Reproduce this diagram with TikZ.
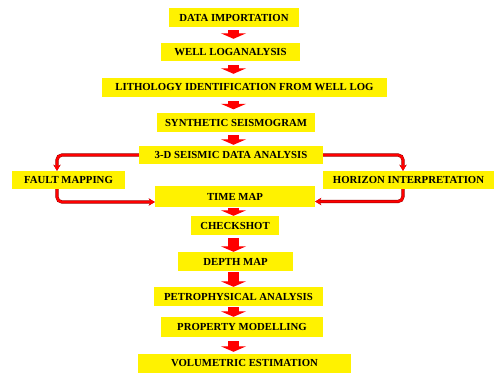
\documentclass[tikz,border=0pt]{standalone}
\usepackage{fontspec}
\setmainfont{Liberation Serif}
\usetikzlibrary{arrows.meta,calc}
\begin{document}
\begin{tikzpicture}[x=1bp,y=-1bp,
 box/.style={fill=yellow, inner sep=0pt, font=\bfseries\fontsize{10.8}{11}\selectfont},
 blockarrow/.style={draw=red, line width=11bp, -{Triangle[width=25bp,length=5.5bp]}},
 conn/.style={draw=red, line width=2.4bp, rounded corners=5bp, -{Stealth[length=6bp,width=7bp]},
   preaction={draw=red!55!black, line width=3.2bp, rounded corners=5bp}}]
\fill[white] (0,0) rectangle (495,374);
\node[box, minimum width=130bp, minimum height=19bp] (n1) at (234,17.5) {DATA IMPORTATION};
\node[box, minimum width=139bp, minimum height=18bp] (n2) at (230.5,52) {WELL LOGANALYSIS};
\node[box, minimum width=285bp, minimum height=19bp] (n3) at (244.5,87.5) {LITHOLOGY IDENTIFICATION FROM WELL LOG};
\node[box, minimum width=158bp, minimum height=19bp] (n4) at (236,122.5) {SYNTHETIC SEISMOGRAM};
\node[box, minimum width=184bp, minimum height=18bp] (n5) at (231,155) {3-D SEISMIC DATA ANALYSIS};
\node[box, minimum width=113bp, minimum height=18bp] (fault) at (68.5,180) {FAULT MAPPING};
\node[box, minimum width=171bp, minimum height=18bp] (hor) at (408.5,180) {HORIZON INTERPRETATION};
\node[box, minimum width=160bp, minimum height=21bp] (time) at (235,196.5) {TIME MAP};
\node[box, minimum width=88bp, minimum height=19bp] (check) at (235,225.5) {CHECKSHOT};
\node[box, minimum width=115bp, minimum height=19bp] (depth) at (235.5,261.5) {DEPTH MAP};
\node[box, minimum width=169bp, minimum height=19bp] (petro) at (238.5,296.5) {PETROPHYSICAL ANALYSIS};
\node[box, minimum width=162bp, minimum height=20bp] (prop) at (242,327) {PROPERTY MODELLING};
\node[box, minimum width=213bp, minimum height=19bp] (vol) at (244.5,363.5) {VOLUMETRIC ESTIMATION};
\coordinate (ax) at (233.5,0);
\coordinate (lx) at (57,0);
\coordinate (rx) at (403,0);
\foreach \a/\b/\s/\t in {n1/n2/3/4,n2/n3/4/4,n3/n4/4/3.5,n4/n5/3/1,time/check/1/0,check/depth/3/0,depth/petro/1/0,petro/prop/1/0,prop/vol/4/2}
  \draw[blockarrow, shorten <=\s bp, shorten >=\t bp] (\a.south -| ax) -- (\b.north -| ax);
\draw[conn] (n5.west) -| (fault.north -| lx);
\draw[conn] (fault.south -| lx) |- ([yshift=-5.5bp]time.west);
\draw[conn] (n5.east) -| (hor.north -| rx);
\draw[conn] (hor.south -| rx) |- ([yshift=-5bp]time.east);
\end{tikzpicture}
\end{document}
